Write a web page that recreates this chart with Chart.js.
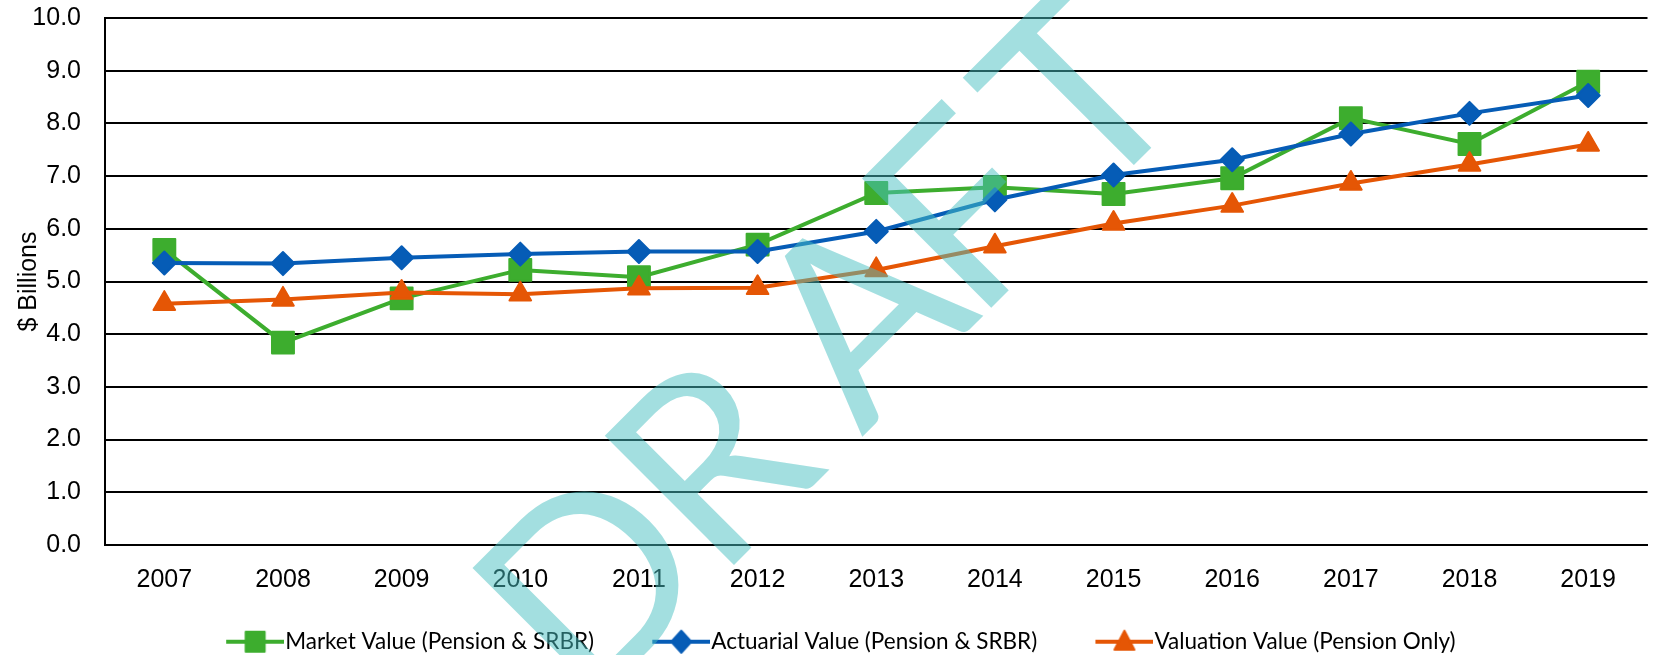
<!DOCTYPE html>
<html>
<head>
<meta charset="utf-8">
<title>Pension asset values</title>
<script src="https://cdn.jsdelivr.net/npm/chart.js@4"></script>
<style>
  html, body { margin: 0; padding: 0; background: #fff; overflow: hidden; }
  #wrap { width: 1665px; height: 655px; }
</style>
</head>
<body>
<div id="wrap"><canvas id="chart" width="1665" height="655"></canvas></div>
<script>
// values ($ billions)
const years = ['2007', '2008', '2009', '2010', '2011', '2012', '2013', '2014', '2015', '2016', '2017', '2018', '2019'];
const marketValue = [5.60, 3.84, 4.68, 5.22, 5.08, 5.70, 6.68, 6.79, 6.66, 6.96, 8.10, 7.61, 8.79];
const actuarialValue = [5.35, 5.34, 5.45, 5.52, 5.57, 5.57, 5.95, 6.55, 7.02, 7.31, 7.80, 8.19, 8.53];
const valuationValue = [4.58, 4.66, 4.79, 4.76, 4.87, 4.88, 5.22, 5.67, 6.10, 6.44, 6.86, 7.22, 7.60];
const seriesNames = ['Market Value (Pension & SRBR)', 'Actuarial Value (Pension & SRBR)', 'Valuation Value (Pension Only)'];
const yTicks = { min: 0, max: 10, step: 1 };
const yTitle = '$ Billions';
const watermark = 'DRAFT';

const GREEN = '#3dad2e';
const BLUE = '#065cb6';
const ORANGE = '#e55605';

// legend swatch: line with the marker on it, drawn into a small canvas
// (the icon is wider than the legend box so the line reaches the text)
function legendIcon(color, shape) {
    const c = document.createElement('canvas');
    c.width = 85; c.height = 30;
    const g = c.getContext('2d');
    g.strokeStyle = color;
    g.lineWidth = 4;
    g.beginPath();
    g.moveTo(27, 15); g.lineTo(85, 15);
    g.stroke();
    const cx = 56, cy = 15;
    g.fillStyle = color;
    g.lineWidth = 2;
    g.lineJoin = 'round';
    g.beginPath();
    if (shape === 'rect') {
        g.rect(cx - 9.5, cy - 10, 19, 20);
    } else if (shape === 'diamond') {
        g.moveTo(cx, cy - 11); g.lineTo(cx + 10, cy); g.lineTo(cx, cy + 11); g.lineTo(cx - 10, cy); g.closePath();
    } else {
        g.moveTo(cx, cy - 11); g.lineTo(cx + 10, cy + 8); g.lineTo(cx - 10, cy + 8); g.closePath();
    }
    g.fill(); g.stroke();
    return c;
}
const legendIcons = [legendIcon(GREEN, 'rect'), legendIcon(BLUE, 'diamond'), legendIcon(ORANGE, 'triangle')];

const roundJoins = {
    id: 'roundJoins',
    beforeDatasetsDraw(chart) { chart.ctx.lineJoin = 'round'; }
};

// DRAFT stamp, letters placed one by one along a 45 degree baseline
const draftLetters = [-68, 119, 300, 483, 625];
const draftMark = {
    id: 'draftMark',
    afterDraw(chart) {
        const ctx = chart.ctx;
        ctx.save();
        ctx.translate(649.5, 649.5);
        ctx.rotate(-Math.PI / 4);
        ctx.font = '255px Lato';
        ctx.fillStyle = 'rgba(71,191,193,0.5)';
        ctx.textBaseline = 'alphabetic';
        ctx.textAlign = 'left';
        watermark.split('').forEach((ch, i) => {
            const m = ctx.measureText(ch);
            ctx.fillText(ch, draftLetters[i] + m.actualBoundingBoxLeft, 0);
        });
        ctx.restore();
    }
};

Chart.defaults.font.family = '"Liberation Sans", Arial, sans-serif';
Chart.defaults.color = '#000';

const ds = (label, data, color, style, radius, order) => ({
    label: label,
    data: data,
    borderColor: color,
    backgroundColor: color,
    borderWidth: 4,
    tension: 0,
    pointStyle: style,
    pointRadius: radius,
    pointHoverRadius: radius,
    pointBorderWidth: 2,
    pointBackgroundColor: color,
    pointBorderColor: color,
    order: order
});

new Chart(document.getElementById('chart'), {
    type: 'line',
    data: {
        labels: years,
        datasets: [
            ds(seriesNames[0], marketValue, GREEN, 'rect', 15.5, 3),
            ds(seriesNames[1], actuarialValue, BLUE, 'rectRot', 11.5, 2),
            ds(seriesNames[2], valuationValue, ORANGE, 'triangle', 12.5, 1)
        ]
    },
    options: {
        responsive: false,
        animation: false,
        layout: { padding: { top: 18, right: 0, bottom: -8, left: 0 } },
        plugins: {
            tooltip: { enabled: false },
            legend: {
                position: 'bottom',
                labels: {
                    usePointStyle: true,
                    pointStyleWidth: 64.5,
                    padding: 41.5,
                    color: '#000',
                    font: { family: 'Lato', size: 22.5 },
                    generateLabels: (chart) => {
                        const items = Chart.defaults.plugins.legend.labels.generateLabels(chart);
                        items.sort((a, b) => a.datasetIndex - b.datasetIndex);
                        items.forEach((it) => { it.pointStyle = legendIcons[it.datasetIndex]; });
                        return items;
                    }
                }
            }
        },
        scales: {
            x: {
                offset: true,
                grid: { display: false, drawTicks: false },
                border: { display: true, color: '#000', width: 2 },
                ticks: { padding: 20, font: { size: 25 }, color: '#000' },
                afterFit: (scale) => { scale.height = 44; }
            },
            y: {
                min: yTicks.min,
                max: yTicks.max,
                grid: { color: '#000', lineWidth: 2, drawTicks: false },
                border: { display: true, color: '#000', width: 2 },
                ticks: {
                    stepSize: yTicks.step,
                    padding: 24,
                    font: { size: 25 },
                    color: '#000',
                    callback: (v) => Number(v).toFixed(1)
                },
                title: {
                    display: true,
                    text: yTitle,
                    color: '#000',
                    font: { size: 25, lineHeight: 1 },
                    padding: { top: 17, bottom: 0 }
                },
                afterFit: (scale) => {
                    scale.width = 105;
                    scale.paddingTop = 0;
                    scale.paddingBottom = 0;
                }
            }
        }
    },
    plugins: [roundJoins, draftMark]
});
</script>
</body>
</html>
